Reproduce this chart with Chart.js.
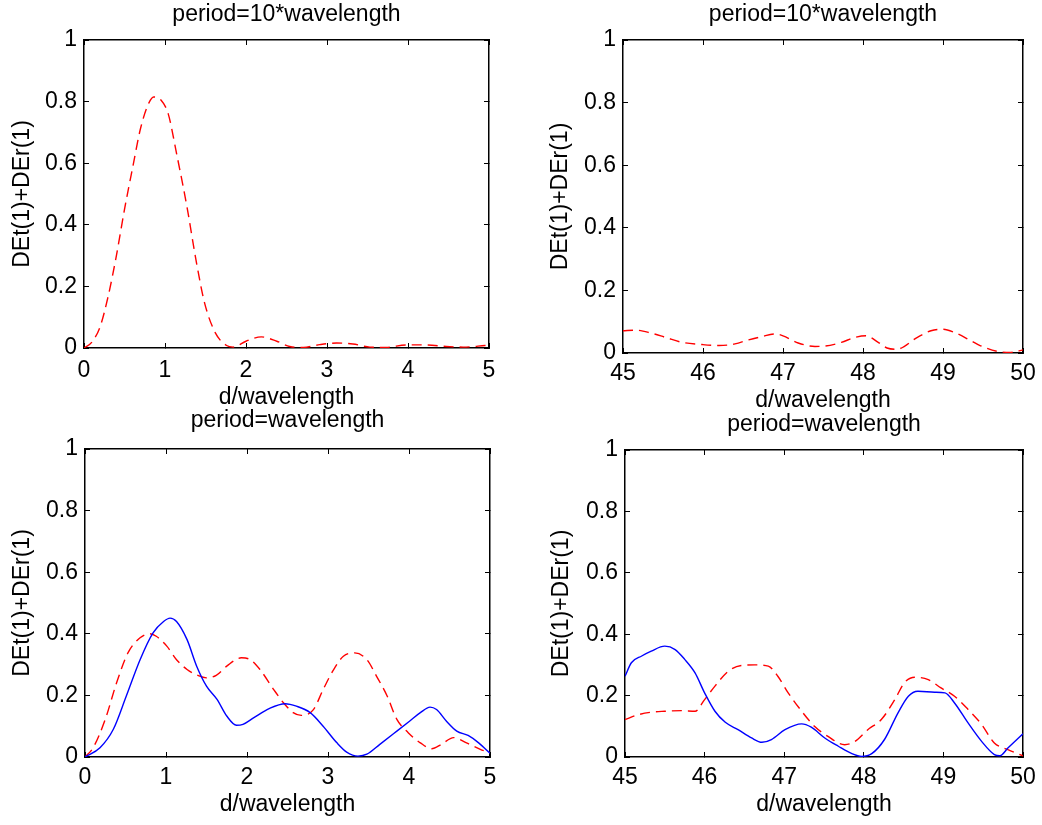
<!DOCTYPE html>
<html>
<head>
<meta charset="utf-8">
<script src="https://cdn.jsdelivr.net/npm/chart.js@4.4.1/dist/chart.umd.min.js"></script>
<style>
  html, body { margin: 0; padding: 0; background: #fff; overflow: hidden; }
  canvas { position: absolute; }
</style>
</head>
<body>
<canvas id="tl" width="560" height="420" style="left:0;top:0"></canvas>
<canvas id="tr" width="560" height="420" style="left:530px;top:0"></canvas>
<canvas id="bl" width="560" height="420" style="left:0;top:405px"></canvas>
<canvas id="br" width="560" height="420" style="left:530px;top:405px"></canvas>
<script>
// period = 10*wavelength, d in [0,5]
const xTL = [0, 0.1, 0.2, 0.3, 0.4, 0.5, 0.6, 0.7, 0.8, 0.86, 0.95, 1.04, 1.14, 1.27, 1.39, 1.49, 1.62, 1.76, 1.84, 2.0, 2.19, 2.38, 2.54, 2.71, 2.91, 3.12, 3.32, 3.53, 3.73, 3.98, 4.23, 4.47, 4.68, 4.95, 5.0];
const redTL = [0, 0.02, 0.07, 0.17, 0.30, 0.45, 0.585, 0.715, 0.795, 0.815, 0.805, 0.76, 0.635, 0.46, 0.275, 0.145, 0.05, 0.008, 0.003, 0.022, 0.036, 0.022, 0.005, 0.002, 0.011, 0.016, 0.013, 0.003, 0.002, 0.01, 0.01, 0.005, 0.003, 0.008, 0.009];

// period = 10*wavelength, d in [45,50]
const xTR = [45.0, 45.16, 45.36, 45.53, 45.74, 45.99, 46.2, 46.4, 46.57, 46.73, 46.9, 47.0, 47.19, 47.4, 47.52, 47.73, 47.9, 48.04, 48.19, 48.3, 48.42, 48.68, 48.85, 49.0, 49.14, 49.35, 49.47, 49.68, 49.85, 50.0];
const redTR = [0.071, 0.073, 0.063, 0.05, 0.034, 0.027, 0.024, 0.029, 0.042, 0.052, 0.061, 0.055, 0.032, 0.021, 0.022, 0.034, 0.05, 0.055, 0.034, 0.016, 0.012, 0.05, 0.071, 0.076, 0.066, 0.039, 0.023, 0.005, 0.002, 0.01];

// period = wavelength, d in [0,5]
const xBLblue = [0, 0.185, 0.35, 0.51, 0.68, 0.84, 0.97, 1.05, 1.13, 1.26, 1.38, 1.5, 1.63, 1.75, 1.87, 1.95, 2.08, 2.28, 2.47, 2.61, 2.78, 2.94, 3.11, 3.23, 3.37, 3.48, 3.64, 3.85, 4.01, 4.14, 4.26, 4.34, 4.46, 4.59, 4.73, 4.86, 5.0];
const blueBL = [0, 0.03, 0.09, 0.198, 0.316, 0.403, 0.44, 0.451, 0.44, 0.381, 0.294, 0.23, 0.187, 0.133, 0.103, 0.106, 0.127, 0.158, 0.173, 0.165, 0.144, 0.1, 0.046, 0.016, 0.003, 0.009, 0.041, 0.084, 0.117, 0.144, 0.162, 0.154, 0.117, 0.084, 0.07, 0.046, 0.012];
const xBLred = [0, 0.1, 0.25, 0.39, 0.53, 0.68, 0.8, 0.88, 1.01, 1.13, 1.26, 1.4, 1.5, 1.62, 1.75, 1.93, 2.04, 2.16, 2.33, 2.45, 2.57, 2.67, 2.82, 2.94, 3.07, 3.19, 3.33, 3.48, 3.6, 3.73, 3.85, 3.99, 4.14, 4.28, 4.4, 4.55, 4.71, 4.88, 5.0];
const redBL = [0, 0.03, 0.122, 0.241, 0.338, 0.387, 0.4, 0.392, 0.36, 0.316, 0.284, 0.264, 0.257, 0.265, 0.295, 0.322, 0.316, 0.284, 0.219, 0.176, 0.144, 0.135, 0.154, 0.219, 0.284, 0.327, 0.338, 0.316, 0.262, 0.198, 0.122, 0.079, 0.046, 0.027, 0.041, 0.063, 0.046, 0.025, 0.014];

// period = wavelength, d in [45,50]
const xBRblue = [45.0, 45.08, 45.21, 45.33, 45.5, 45.63, 45.75, 45.88, 46.0, 46.13, 46.26, 46.42, 46.59, 46.72, 46.84, 47.01, 47.22, 47.34, 47.51, 47.68, 47.85, 47.97, 48.1, 48.26, 48.43, 48.56, 48.68, 48.89, 49.02, 49.14, 49.31, 49.48, 49.64, 49.71, 49.81, 50.0];
const blueBR = [0.263, 0.307, 0.329, 0.345, 0.361, 0.35, 0.318, 0.274, 0.209, 0.149, 0.113, 0.089, 0.062, 0.048, 0.057, 0.089, 0.108, 0.097, 0.062, 0.035, 0.011, 0.002, 0.011, 0.057, 0.144, 0.198, 0.214, 0.211, 0.209, 0.176, 0.111, 0.051, 0.008, 0.004, 0.029, 0.076];
const xBRred = [45.0, 45.17, 45.33, 45.5, 45.71, 45.88, 46.0, 46.13, 46.3, 46.46, 46.63, 46.8, 46.92, 47.05, 47.22, 47.38, 47.55, 47.76, 47.89, 48.05, 48.22, 48.39, 48.51, 48.64, 48.81, 48.97, 49.14, 49.31, 49.48, 49.64, 49.81, 50.0];
const redBR = [0.122, 0.138, 0.146, 0.149, 0.151, 0.149, 0.187, 0.231, 0.28, 0.298, 0.3, 0.296, 0.263, 0.209, 0.149, 0.1, 0.067, 0.04, 0.051, 0.089, 0.122, 0.187, 0.242, 0.26, 0.252, 0.225, 0.198, 0.155, 0.106, 0.046, 0.024, 0.004];

const yTicks = [0, 0.2, 0.4, 0.6, 0.8, 1];
const titleTop = 'period=10*wavelength';
const titleBottom = 'period=wavelength';
const xLabel = 'd/wavelength';
const yLabel = 'DEt(1)+DEr(1)';

Chart.defaults.font.family = "'Liberation Sans', Arial, Helvetica, sans-serif";
Chart.defaults.font.size = 23;
Chart.defaults.color = '#000';

const LH = 23 * 1.2 / 2; // half line height of the text

function toPoints(xs, ys) {
    return xs.map((x, i) => ({ x: x, y: ys[i] }));
}

function redLine(xs, ys) {
    return { data: toPoints(xs, ys), borderColor: '#ff0000', borderWidth: 1.4, borderDash: [10, 6],
             pointRadius: 0, cubicInterpolationMode: 'monotone', fill: false, xAxisID: 'x', yAxisID: 'y' };
}

function blueLine(xs, ys) {
    return { data: toPoints(xs, ys), borderColor: '#0000ff', borderWidth: 1.4,
             pointRadius: 0, cubicInterpolationMode: 'monotone', fill: false, xAxisID: 'x', yAxisID: 'y' };
}

// p: canvas box and plot edges in page pixels, plus text positions
function makePanel(id, p, title, xMin, xMax, datasets) {
    const ctx = document.getElementById(id).getContext('2d');
    const grid = { drawOnChartArea: false, drawTicks: true, tickLength: -5, tickColor: '#000', tickWidth: 1 };
    const border = { display: true, color: '#000', width: 1.5 };
    const leftW = p.left - p.cx;
    const rightW = p.cx + p.cw - p.right;
    const topH = p.top - p.cy;
    const bottomH = p.cy + p.ch - p.bottom;

    new Chart(ctx, {
        type: 'line',
        data: { datasets: datasets },
        options: {
            responsive: false,
            animation: false,
            devicePixelRatio: 1,
            layout: { padding: 0 },
            plugins: { legend: { display: false }, tooltip: { enabled: false }, title: { display: false } },
            scales: {
                x: {
                    type: 'linear', position: 'bottom', min: xMin, max: xMax,
                    ticks: { stepSize: 1, padding: p.xTickY - p.bottom + 5 - LH, maxRotation: 0, autoSkip: false },
                    grid: grid, border: border,
                    title: { display: true, text: xLabel, padding: { top: 0, bottom: p.cy + p.ch - LH - p.xTitleY } },
                    afterFit: (s) => { s.height = bottomH; }
                },
                xTop: {
                    type: 'linear', position: 'top', min: xMin, max: xMax,
                    ticks: { stepSize: 1, display: false },
                    grid: grid, border: border,
                    title: { display: true, text: title, padding: { top: p.titleY - p.cy - LH, bottom: 0 } },
                    afterFit: (s) => { s.height = topH; }
                },
                y: {
                    type: 'linear', position: 'left', min: 0, max: 1,
                    afterBuildTicks: (s) => { s.ticks = yTicks.map(v => ({ value: v })); },
                    ticks: { padding: 12, callback: (v) => String(Math.round(v * 10) / 10) },
                    grid: grid, border: border,
                    title: { display: true, text: yLabel, padding: { top: p.yTitleX - p.cx - LH, bottom: 0 } },
                    afterFit: (s) => { s.width = leftW; }
                },
                yRight: {
                    type: 'linear', position: 'right', min: 0, max: 1,
                    afterBuildTicks: (s) => { s.ticks = yTicks.map(v => ({ value: v })); },
                    ticks: { display: false },
                    grid: grid, border: border,
                    afterFit: (s) => { s.width = rightW; }
                }
            }
        }
    });
}

makePanel('tl', { cx: 0, cy: 0, cw: 560, ch: 420, left: 84, right: 489, top: 40, bottom: 348,
                  titleY: 14.6, xTickY: 370.5, xTitleY: 397.6, yTitleX: 22.5 },
          titleTop, 0, 5, [redLine(xTL, redTL)]);

makePanel('tr', { cx: 530, cy: 0, cw: 560, ch: 420, left: 623, right: 1023, top: 40, bottom: 353,
                  titleY: 14.6, xTickY: 373.5, xTitleY: 400.6, yTitleX: 561 },
          titleTop, 45, 50, [redLine(xTR, redTR)]);

makePanel('bl', { cx: 0, cy: 405, cw: 560, ch: 420, left: 85, right: 490, top: 449, bottom: 757,
                  titleY: 420.5, xTickY: 777.5, xTitleY: 804.3, yTitleX: 22.5 },
          titleBottom, 0, 5, [blueLine(xBLblue, blueBL), redLine(xBLred, redBL)]);

makePanel('br', { cx: 530, cy: 405, cw: 560, ch: 420, left: 625, right: 1023, top: 450, bottom: 757,
                  titleY: 424.3, xTickY: 777.5, xTitleY: 804.3, yTitleX: 562 },
          titleBottom, 45, 50, [blueLine(xBRblue, blueBR), redLine(xBRred, redBR)]);
</script>
</body>
</html>
